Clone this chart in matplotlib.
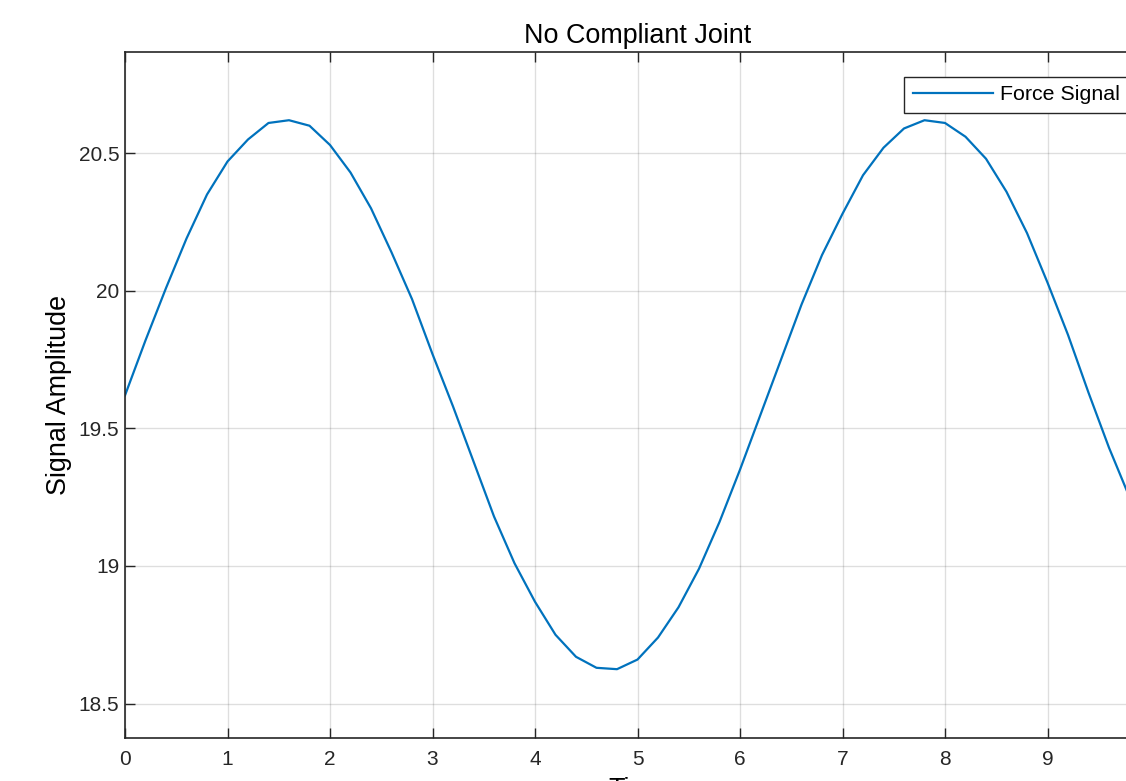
import matplotlib
matplotlib.use("Agg")
import matplotlib.pyplot as plt
import numpy as np

time = [0.0, 0.2, 0.4, 0.6, 0.8, 1.0, 1.2, 1.4, 1.6, 1.8,
        2.0, 2.2, 2.4, 2.6, 2.8, 3.0, 3.2, 3.4, 3.6, 3.8,
        4.0, 4.2, 4.4, 4.6, 4.8, 5.0, 5.2, 5.4, 5.6, 5.8,
        6.0, 6.2, 6.4, 6.6, 6.8, 7.0, 7.2, 7.4, 7.6, 7.8,
        8.0, 8.2, 8.4, 8.6, 8.8, 9.0, 9.2, 9.4, 9.6, 9.8]
force = [19.62, 19.82, 20.01, 20.19, 20.35, 20.47, 20.55, 20.61, 20.62, 20.60,
         20.53, 20.43, 20.30, 20.14, 19.97, 19.77, 19.58, 19.38, 19.18, 19.01,
         18.87, 18.75, 18.67, 18.63, 18.625, 18.66, 18.74, 18.85, 18.99, 19.16,
         19.35, 19.55, 19.75, 19.95, 20.13, 20.28, 20.42, 20.52, 20.59, 20.62,
         20.61, 20.56, 20.48, 20.36, 20.21, 20.03, 19.84, 19.63, 19.43, 19.25]

xticks = [0, 1, 2, 3, 4, 5, 6, 7, 8, 9]
yticks = [18.5, 19, 19.5, 20, 20.5]
ytick_labels = ["18.5", "19", "19.5", "20", "20.5"]

plt.rcParams['font.family'] = ['Liberation Sans', 'DejaVu Sans']

W, H = 1126, 781
fig = plt.figure(figsize=(W / 100, H / 100), dpi=100)
left, right = 125, 1150
top, bottom = 51.7, 737.7
ax = fig.add_axes([left / W, 1 - bottom / H, (right - left) / W, (bottom - top) / H])

dark = (0.15, 0.15, 0.15)
ax.plot(time, force, color='#0072BD', lw=1.6, label='Force Signal')
ax.set_xlim(0, 10)
ax.set_ylim(18.376, 20.869)
ax.set_xticks(xticks)
ax.set_yticks(yticks)
ax.set_yticklabels(ytick_labels)
ax.grid(True, color=(0.15, 0.15, 0.15), alpha=0.15, lw=1)
ax.tick_params(direction='in', length=7, width=1, colors=dark, labelsize=15,
               top=True, right=True)
ax.tick_params(axis='y', pad=4)
ax.tick_params(axis='x', pad=8.5)
for s in ax.spines.values():
    s.set_color(dark)
    s.set_linewidth(1.2)

ax.set_title('No Compliant Joint', fontsize=19.4, color='black', pad=6)
ax.set_ylabel('Signal Amplitude', fontsize=19.4, color='black', labelpad=5)
ax.set_xlabel('Time', fontsize=19.4, color='black', labelpad=6)

leg = ax.legend(loc='upper right', bbox_to_anchor=(1128 / W, 1 - 76.7 / H),
                bbox_transform=fig.transFigure, fontsize=15.4, fancybox=False,
                framealpha=1, edgecolor=dark, borderaxespad=0, handlelength=3.74,
                borderpad=0.4, handletextpad=0.33)
leg.get_frame().set_linewidth(1.0)

fig.savefig('out.png', dpi=100)
